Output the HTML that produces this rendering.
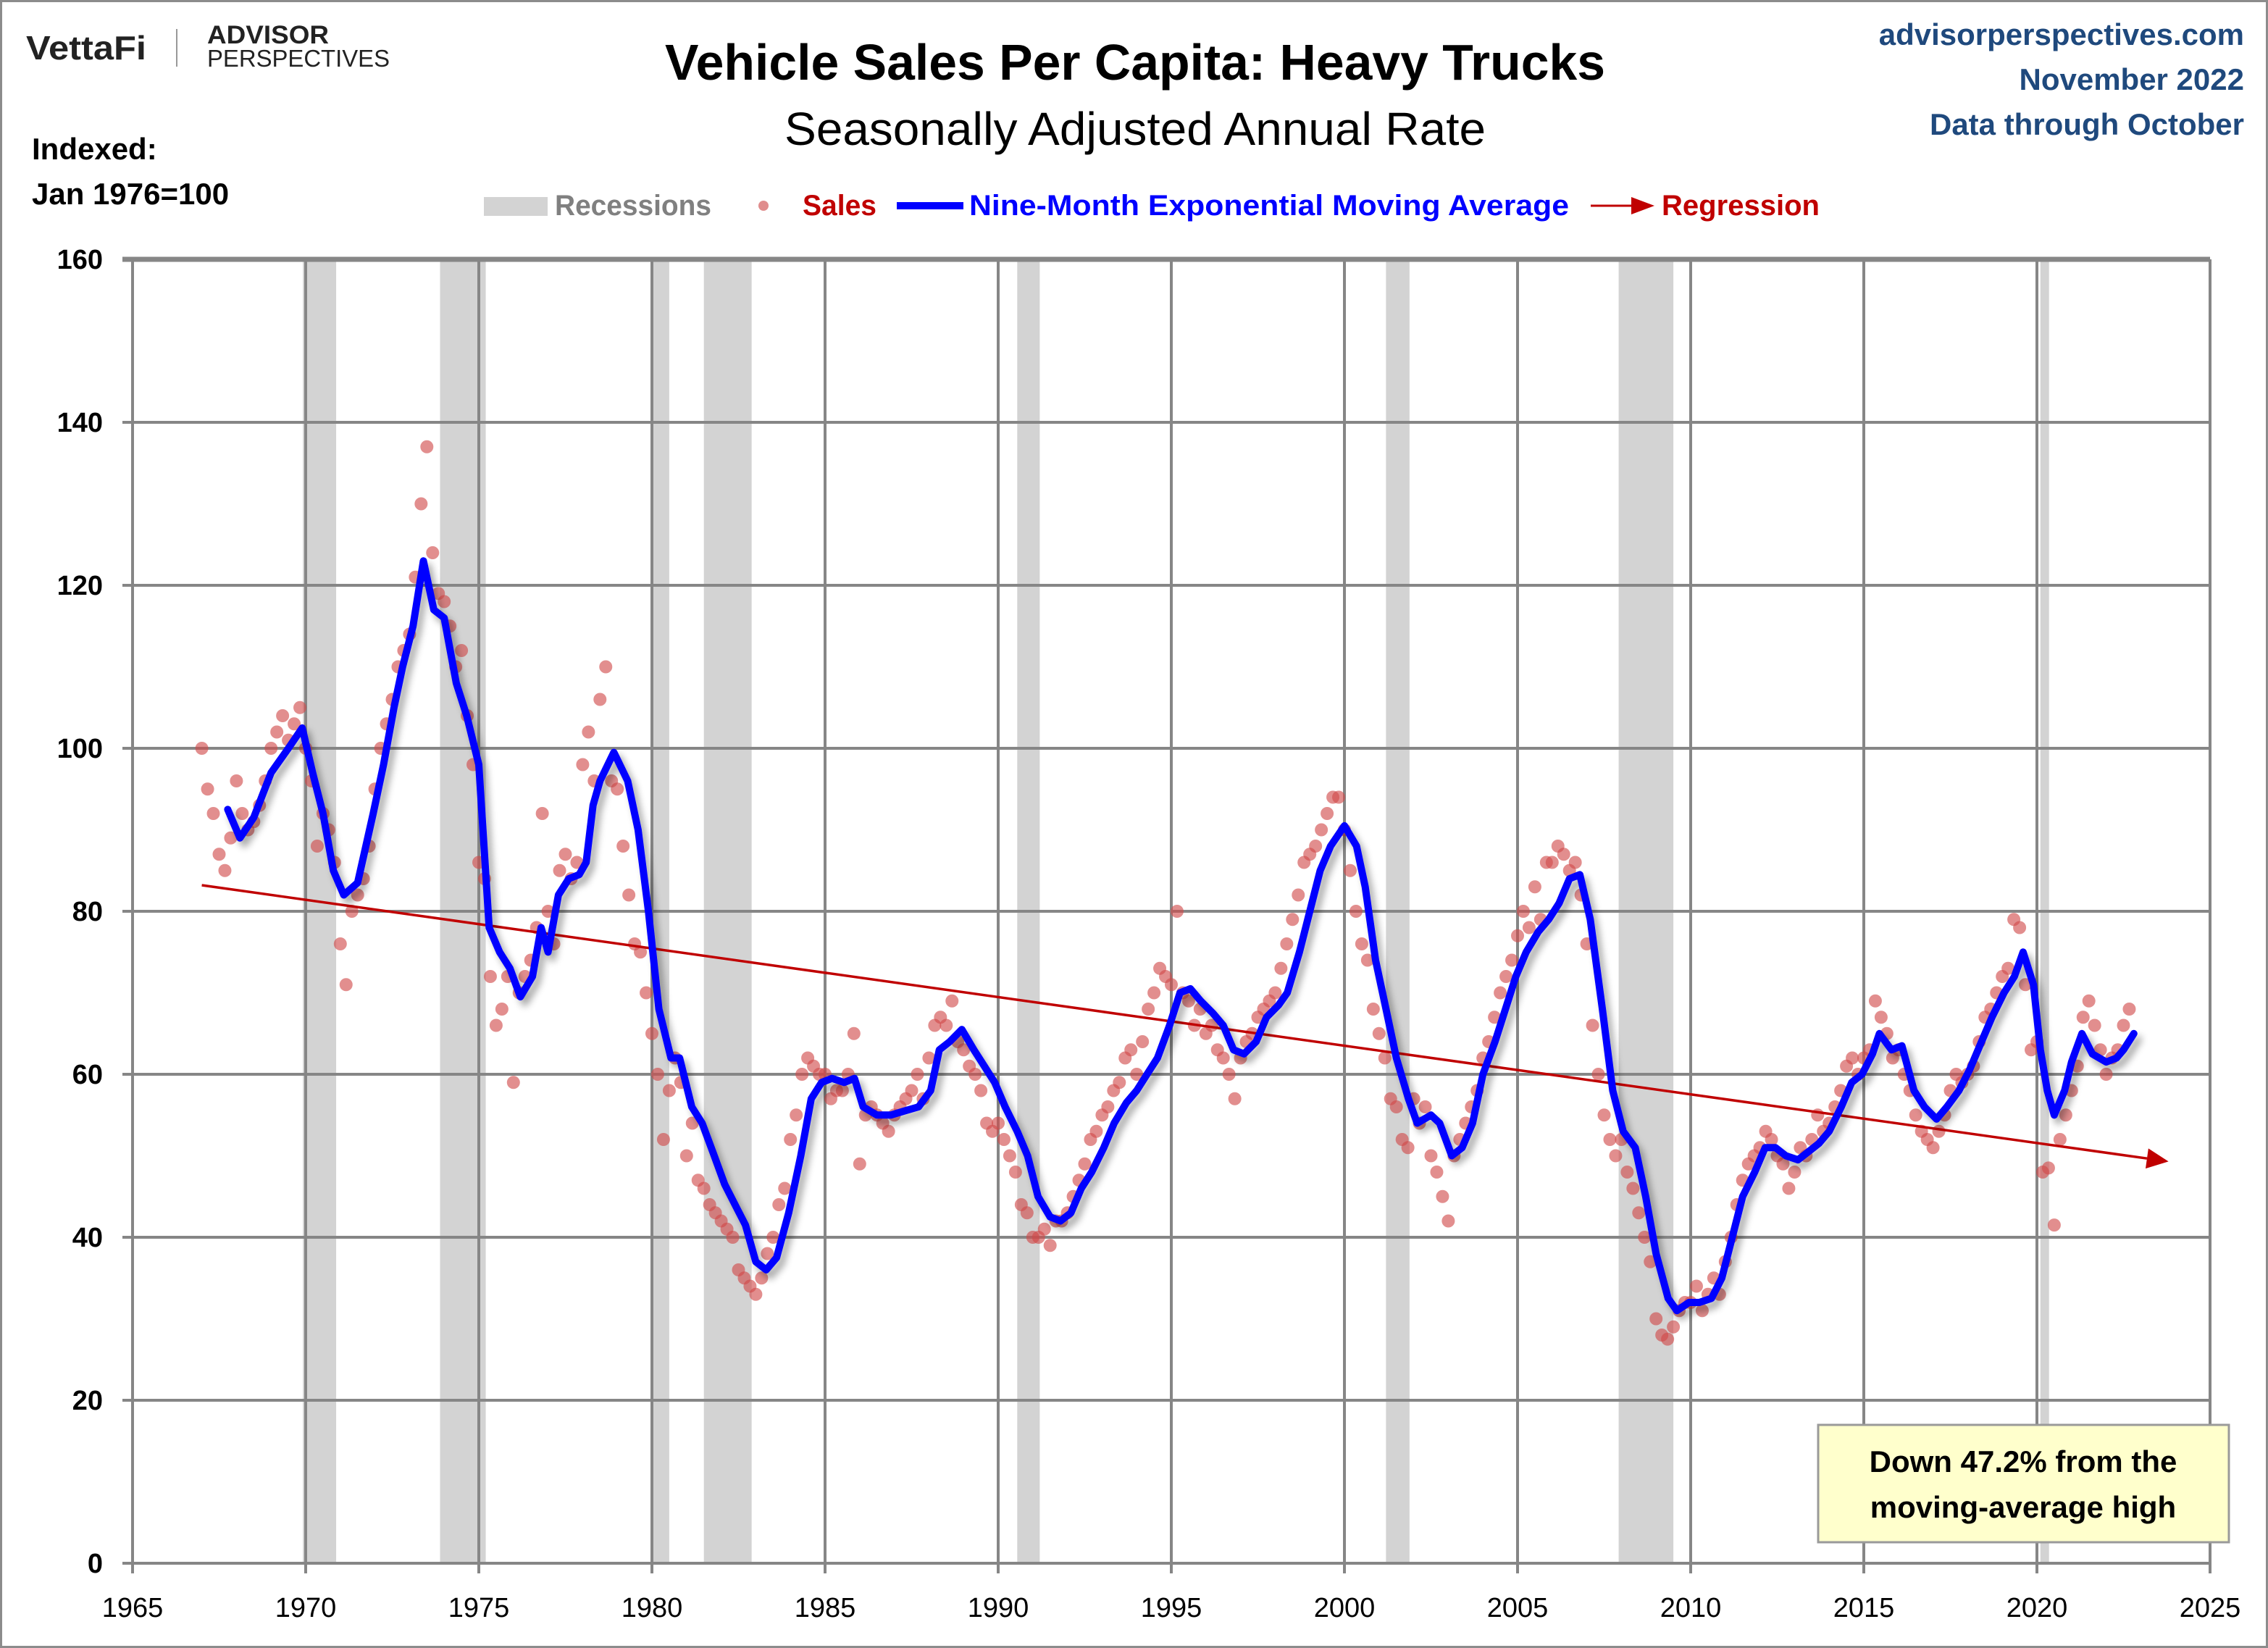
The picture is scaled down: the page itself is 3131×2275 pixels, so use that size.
<!DOCTYPE html>
<html><head><meta charset="utf-8">
<style>
html,body{margin:0;padding:0;background:#fff;}
svg{display:block;}
text{font-family:"Liberation Sans",sans-serif;}
</style></head>
<body>
<svg id="chart" width="3131" height="2275" viewBox="0 0 3131 2275" xmlns="http://www.w3.org/2000/svg">
<defs>
<filter id="shadow" x="-5%" y="-5%" width="110%" height="115%">
<feGaussianBlur in="SourceAlpha" stdDeviation="5"/>
<feOffset dx="6" dy="8" result="b"/>
<feComponentTransfer><feFuncA type="linear" slope="0.35"/></feComponentTransfer>
<feMerge><feMergeNode/><feMergeNode in="SourceGraphic"/></feMerge>
</filter>
</defs>
<rect x="0" y="0" width="3131" height="2275" fill="#fff" stroke="#8c8c8c" stroke-width="6"/>
<g id="header">
<text x="36" y="82" font-size="46" font-weight="bold" fill="#222" textLength="166" lengthAdjust="spacingAndGlyphs">VettaFi</text>
<line x1="244" y1="40" x2="244" y2="92" stroke="#999" stroke-width="2"/>
<text x="286" y="60" font-size="35" font-weight="bold" fill="#222" textLength="168" lengthAdjust="spacingAndGlyphs">ADVISOR</text>
<text x="286" y="92" font-size="33" fill="#222" textLength="252" lengthAdjust="spacingAndGlyphs">PERSPECTIVES</text>
<text x="1567" y="110" font-size="70" font-weight="bold" text-anchor="middle" fill="#000" textLength="1298" lengthAdjust="spacingAndGlyphs">Vehicle Sales Per Capita: Heavy Trucks</text>
<text x="1567" y="200" font-size="64" text-anchor="middle" fill="#000" textLength="968" lengthAdjust="spacingAndGlyphs">Seasonally Adjusted Annual Rate</text>
<text x="3098" y="62" font-size="42" font-weight="bold" text-anchor="end" fill="#1F497D">advisorperspectives.com</text>
<text x="3098" y="124" font-size="42" font-weight="bold" text-anchor="end" fill="#1F497D">November 2022</text>
<text x="3098" y="186" font-size="42" font-weight="bold" text-anchor="end" fill="#1F497D">Data through October</text>
<text x="44" y="220" font-size="42" font-weight="bold" fill="#000">Indexed:</text>
<text x="44" y="282" font-size="42" font-weight="bold" fill="#000">Jan 1976=100</text>
</g>
<g id="legend">
<rect x="668" y="272" width="88" height="26" fill="#D3D3D3"/>
<text x="766" y="297" font-size="40" font-weight="bold" fill="#808080" textLength="216" lengthAdjust="spacingAndGlyphs">Recessions</text>
<circle cx="1054" cy="284" r="7" fill="#D05050" fill-opacity="0.65"/>
<text x="1108" y="297" font-size="40" font-weight="bold" fill="#C00000" textLength="102" lengthAdjust="spacingAndGlyphs">Sales</text>
<line x1="1238" y1="284" x2="1330" y2="284" stroke="#0000FF" stroke-width="10"/>
<text x="1338" y="297" font-size="40" font-weight="bold" fill="#0000FF" textLength="828" lengthAdjust="spacingAndGlyphs">Nine-Month Exponential Moving Average</text>
<line x1="2196" y1="284" x2="2254" y2="284" stroke="#C00000" stroke-width="3"/>
<polygon points="2252,272 2284,284 2252,296" fill="#C00000"/>
<text x="2294" y="297" font-size="40" font-weight="bold" fill="#C00000" textLength="218" lengthAdjust="spacingAndGlyphs">Regression</text>
</g>
<g id="plot"></g>
<g id="annot">
<rect x="2510" y="1967" width="567" height="162" fill="#FFFFCC" stroke="#9a9a9a" stroke-width="3"/>
<text x="2793" y="2032" font-size="42" font-weight="bold" text-anchor="middle" fill="#000">Down 47.2% from the</text>
<text x="2793" y="2095" font-size="42" font-weight="bold" text-anchor="middle" fill="#000">moving-average high</text>
</g>
</svg>
<script>
const yTicks = [0,20,40,60,80,100,120,140,160];
const xTicks = [1965,1970,1975,1980,1985,1990,1995,2000,2005,2010,2015,2020,2025];
const recessionStarts = [1969.92,1973.88,1980.0,1981.5,1990.55,2001.2,2007.92,2020.1];
const recessionEnds = [1970.88,1975.2,1980.5,1982.88,1991.2,2001.88,2009.5,2020.35];
const salesStartYear = 1967.0;
const salesValues = [
100,95,92,87,85,89,
96,92,90,91,93,96,
100,102,104,101,103,105,
100,96,88,92,90,86,
76,71,80,82,84,88,
95,100,103,106,110,112,
114,121,130,137,124,119,
118,115,110,112,104,98,
86,84,72,66,68,72,
59,70,72,74,78,92,
80,76,85,87,84,86,
98,102,96,106,110,96,
95,88,82,76,75,70,
65,60,52,58,62,59,
50,54,47,46,44,43,
42,41,40,36,35,34,
33,35,38,40,44,46,
52,55,60,62,61,60,
60,57,58,58,60,65,
49,55,56,55,54,53,
55,56,57,58,60,57,
62,66,67,66,69,64,
63,61,60,58,54,53,
54,52,50,48,44,43,
40,40,41,39,42,42,
43,45,47,49,52,53,
55,56,58,59,62,63,
60,64,68,70,73,72,
71,80,70,69,66,68,
65,66,63,62,60,57,
62,64,65,67,68,69,
70,73,76,79,82,86,
87,88,90,92,94,94,
90,85,80,76,74,68,
65,62,57,56,52,51,
57,54,56,50,48,45,
42,50,52,54,56,58,
62,64,67,70,72,74,
77,80,78,83,79,86,
86,88,87,85,86,82,
76,66,60,55,52,50,
52,48,46,43,40,37,
30,28,27.5,29,31,32,
32,34,31,33,35,33,
37,40,44,47,49,50,
51,53,52,50,49,46,
48,51,50,52,55,53,
54,56,58,61,62,60,
62,63,69,67,65,62,
63,60,58,55,53,52,
51,53,55,58,60,59,
60,61,64,67,68,70,
72,73,79,78,71,63,
64,48,48.5,41.5,52,55,
58,61,67,69,66,63,
60,62,63,66,68
];
const maYears = [1967.75,1968.1,1968.5,1969.0,1969.5,1969.9,1970.2,1970.5,1970.8,1971.1,1971.5,1971.95,1972.25,1972.55,1972.8,1973.1,1973.4,1973.7,1974.0,1974.35,1974.65,1975.0,1975.3,1975.6,1975.9,1976.2,1976.55,1976.8,1977.0,1977.3,1977.6,1977.9,1978.1,1978.3,1978.5,1978.9,1979.3,1979.6,1979.9,1980.2,1980.55,1980.8,1981.15,1981.45,1981.8,1982.1,1982.4,1982.7,1983.0,1983.3,1983.6,1983.95,1984.3,1984.6,1984.9,1985.2,1985.55,1985.85,1986.1,1986.5,1986.9,1987.3,1987.7,1988.05,1988.3,1988.6,1988.95,1989.3,1989.6,1989.9,1990.2,1990.55,1990.85,1991.15,1991.5,1991.8,1992.1,1992.4,1992.7,1993.05,1993.35,1993.7,1994.0,1994.3,1994.6,1994.95,1995.25,1995.55,1995.85,1996.2,1996.5,1996.8,1997.1,1997.45,1997.75,1998.1,1998.35,1998.7,1999.0,1999.3,1999.6,2000.0,2000.35,2000.6,2000.9,2001.2,2001.5,2001.85,2002.1,2002.5,2002.75,2003.1,2003.4,2003.7,2004.0,2004.35,2004.65,2004.95,2005.25,2005.6,2005.9,2006.2,2006.5,2006.8,2007.1,2007.45,2007.75,2008.05,2008.4,2008.7,2009.0,2009.35,2009.6,2009.95,2010.25,2010.6,2010.9,2011.2,2011.5,2011.85,2012.15,2012.45,2012.75,2013.1,2013.4,2013.7,2014.0,2014.35,2014.65,2014.95,2015.25,2015.45,2015.8,2016.1,2016.45,2016.75,2017.1,2017.4,2017.75,2018.05,2018.4,2018.7,2019.05,2019.35,2019.6,2019.9,2020.1,2020.3,2020.5,2020.8,2021.0,2021.3,2021.6,2022.0,2022.3,2022.5,2022.8];
const maValues = [92.5,89,91.5,97,100,102.5,97,92,85,82,83.5,92,98,105,110,115,123,117,116,108,104,98,78,75,73,69.5,72,78,75,82,84,84.5,86,93,96,99.5,96,90,80,68,62,62,56,54,50,46.5,44,41.5,37,36,37.5,43,50,57,59,59.5,59,59.5,56,55,55,55.5,56,58,63,64,65.5,63,61,59,56,53,50,45,42.5,42,43,46,48,51,54,56.5,58,60,62,66,70,70.5,69,67.5,66,63,62.5,64,67,68.5,70,75,80,85,88,90.5,88,83,74,68,62,57,54,55,54,50,51,54,60,64,68,72,75,77.5,79,81,84,84.5,79,68,58,53,51,45,38,32.5,31,32,32,32.5,35,40,45,48,51,51,50,49.5,50.5,51.5,53,56,59,60,62.5,65,63,63.5,58,56,54.5,56,58,60.5,64,67,70,72,75,71,63,58,55,58,61.5,65,62.5,61.5,62,63,65];
const regYears = [1967.0, 2023.8];
const regValues = [83.2, 49.3];

const X0 = 183, X1 = 3051, Y0 = 2158, Y1 = 358;
const xMin = 1965, xMax = 2025, yMin = 0, yMax = 160;
function xs(v){ return X0 + (v - xMin) / (xMax - xMin) * (X1 - X0); }
function ys(v){ return Y0 - (v - yMin) / (yMax - yMin) * (Y0 - Y1); }
const NS = "http://www.w3.org/2000/svg";
const plot = document.getElementById('plot');
function mk(tag, attrs, parent){ const e = document.createElementNS(NS, tag); for (const k in attrs) e.setAttribute(k, attrs[k]); (parent||plot).appendChild(e); return e; }

recessionStarts.forEach((s, i) => {
  const r = mk('rect', {x: xs(s), y: Y1, width: xs(recessionEnds[i]) - xs(s), height: Y0 - Y1, fill: '#D3D3D3'});
  
  
});
yTicks.forEach(t => {
  const l = mk('line', {x1: X0 - 14, x2: X1, y1: ys(t), y2: ys(t), stroke: '#868686', 'stroke-width': (t === yMax ? 7 : 4)});
  
  
  const tx = mk('text', {x: 142, y: ys(t) + 13, 'font-size': 38, 'font-weight': 'bold', 'text-anchor': 'end', fill: '#000'});
  tx.textContent = t;
  
  
});
xTicks.forEach(t => {
  const l = mk('line', {x1: xs(t), x2: xs(t), y1: Y1, y2: Y0 + 14, stroke: '#868686', 'stroke-width': 4});
  
  
  const tx = mk('text', {x: xs(t), y: 2232, 'font-size': 38, 'text-anchor': 'middle', fill: '#000'});
  tx.textContent = t;
  
  
});
salesValues.forEach((v, i) => {
  const c = mk('circle', {cx: xs(salesStartYear + i / 6), cy: ys(v), r: 9, fill: '#D04848', 'fill-opacity': 0.62});
  
  
});
const rx1 = xs(regYears[0]), ry1 = ys(regValues[0]), rx2 = xs(regYears[1]), ry2 = ys(regValues[1]);
const ang = Math.atan2(ry2 - ry1, rx2 - rx1);
const bx = rx2 - 30 * Math.cos(ang), by = ry2 - 30 * Math.sin(ang);
const reg = mk('line', {x1: rx1, y1: ry1, x2: bx, y2: by, stroke: '#C00000', 'stroke-width': 3.5});


const px = -Math.sin(ang) * 14, py = Math.cos(ang) * 14;
const arr = mk('polygon', {points: `${rx2},${ry2} ${bx+px},${by+py} ${bx-px},${by-py}`, fill: '#C00000'});


const d = maYears.map((yr, i) => (i ? 'L' : 'M') + xs(yr).toFixed(1) + ',' + ys(maValues[i]).toFixed(1)).join(' ');
const ma = mk('path', {d: d, fill: 'none', stroke: '#0000FF', 'stroke-width': 10, 'stroke-linejoin': 'round', 'stroke-linecap': 'round', filter: 'url(#shadow)'});


</script>
</body></html>
